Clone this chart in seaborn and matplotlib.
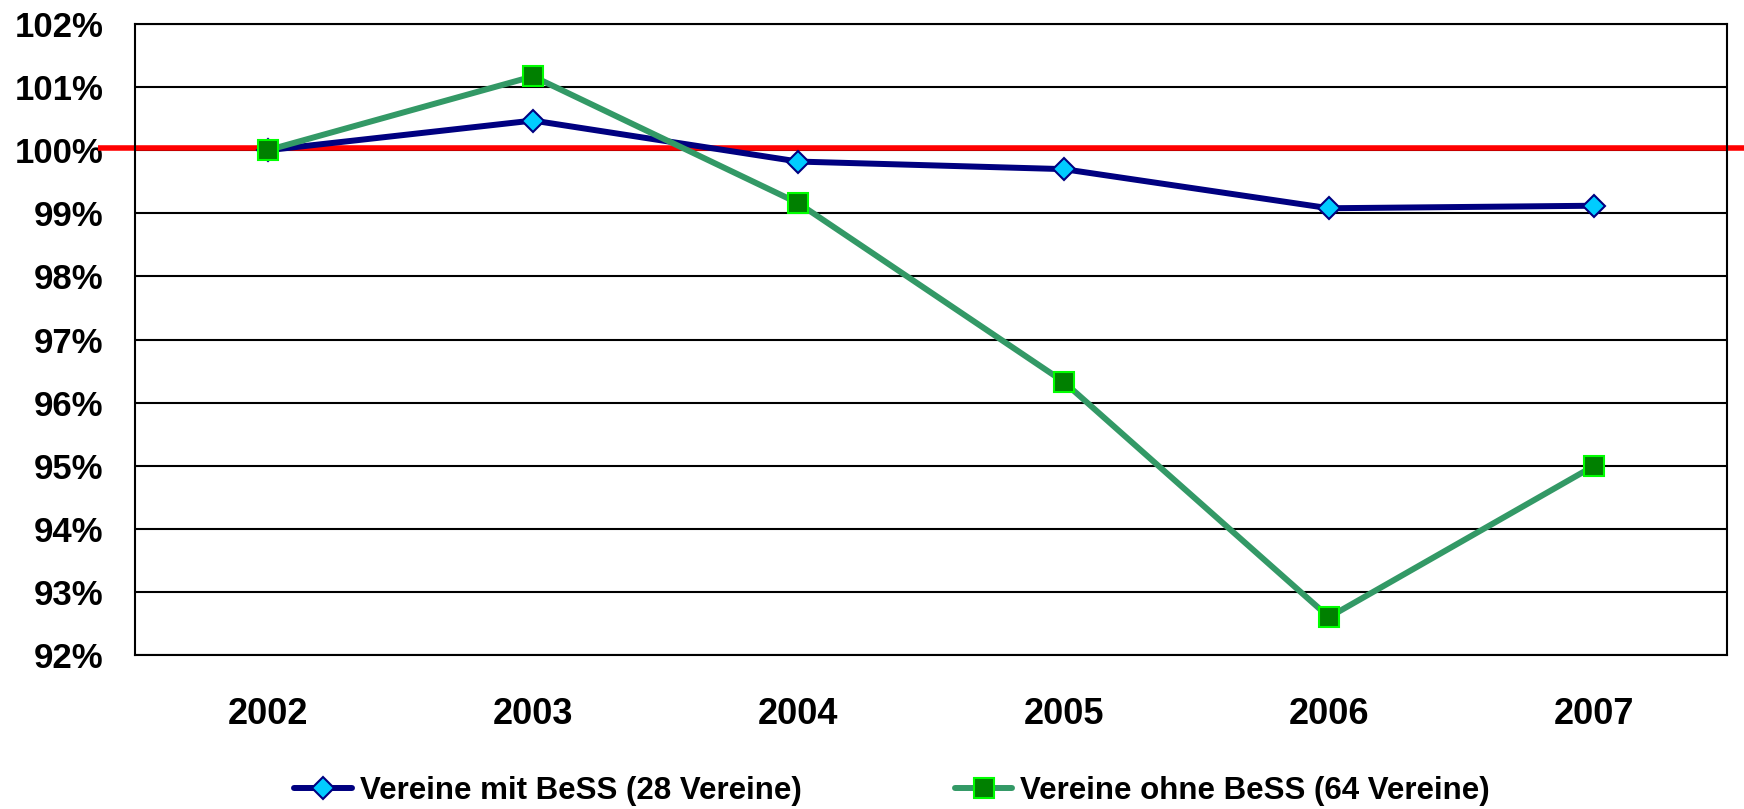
import numpy as np
import pandas as pd
import matplotlib
matplotlib.use("Agg")
import matplotlib.pyplot as plt
import seaborn as sns
from matplotlib.ticker import FixedLocator

# Daten (Index 2002 = 100 %)
jahre = ["2002", "2003", "2004", "2005", "2006", "2007"]
mit_bess = [100.0, 100.47, 99.82, 99.70, 99.08, 99.12]
ohne_bess = [100.0, 101.17, 99.16, 96.33, 92.60, 95.00]
y_ticks = list(range(92, 103))
label_mit = "Vereine mit BeSS (28 Vereine)"
label_ohne = "Vereine ohne BeSS (64 Vereine)"

sns.set_style("white")
plt.rcParams["font.family"] = ["Liberation Sans", "DejaVu Sans"]
plt.rcParams["text.color"] = "black"
plt.rcParams["xtick.color"] = "black"
plt.rcParams["ytick.color"] = "black"

df = pd.DataFrame({"pos": np.arange(len(jahre)), "jahr": jahre,
                   "mit": mit_bess, "ohne": ohne_bess})

fig = plt.figure(figsize=(17.44, 8.09), dpi=100)
ax = fig.add_axes([135 / 1744, 1 - 655 / 809, 1592 / 1744, 631 / 809])

# Gitterlinien
for y in y_ticks:
    ax.axhline(y, color="black", lw=1.5, zorder=1)

# rote 100%-Linie (ragt links und rechts über die Achse hinaus)
ax.plot([-0.64, 5.6], [100.03, 100.03], color="#FF0000", lw=4.0,
        zorder=2, clip_on=False, solid_capstyle="butt")

sns.lineplot(data=df, x="pos", y="mit", ax=ax, color="#000080", lw=4.3,
             marker="D", markersize=11, markerfacecolor="#00CCFF",
             markeredgecolor="#000080", markeredgewidth=1.5,
             label=label_mit, zorder=3, legend=False)
sns.lineplot(data=df, x="pos", y="ohne", ax=ax, color="#339966", lw=4.3,
             marker="s", markersize=15, markerfacecolor="#008000",
             markeredgecolor="#00FF00", markeredgewidth=1.5,
             label=label_ohne, zorder=4, legend=False)

ax.set_xlim(-0.5, len(jahre) - 0.5)
ax.set_ylim(92, 102)
ax.set_xlabel("")
ax.set_ylabel("")

ax.set_yticks(y_ticks)
ax.set_yticklabels([f"{v}%" for v in y_ticks], fontsize=25,
                   fontweight="bold")
ax.tick_params(axis="y", direction="out", length=8.6, width=1.5,
               color="black", pad=14)

ax.set_xticks(df["pos"])
ax.set_xticklabels(jahre, fontsize=26, fontweight="bold")
ax.xaxis.set_minor_locator(FixedLocator(np.arange(-0.5, len(jahre), 1.0)))
ax.tick_params(axis="x", which="major", length=0, pad=30)
ax.tick_params(axis="x", which="minor", direction="out", length=8.6,
               width=1.5, color="black")

for side in ["left", "right", "top", "bottom"]:
    ax.spines[side].set_visible(True)
    ax.spines[side].set_color("black")
    ax.spines[side].set_linewidth(1.5)

handles, labels = ax.get_legend_handles_labels()
fig.legend(handles, labels, loc="center", ncol=2, frameon=False,
           bbox_to_anchor=(892 / 1744, 1 - 791 / 809),
           prop={"weight": "bold", "size": 22.5},
           handlelength=1.85, handletextpad=0.25, columnspacing=4.9)

fig.savefig("out.png", dpi=100)
